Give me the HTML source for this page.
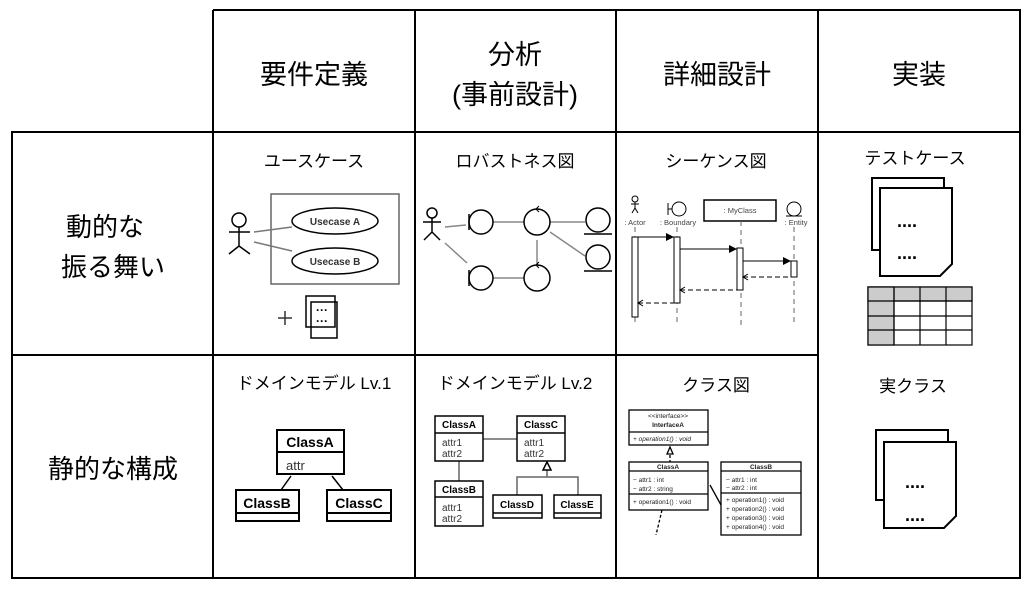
<!DOCTYPE html>
<html><head><meta charset="utf-8"><style>
body{margin:0;background:#fff}
text{font-family:"Liberation Sans","Noto Sans CJK JP",sans-serif}
</style></head><body>
<svg width="1027" height="588" viewBox="0 0 1027 588" xmlns="http://www.w3.org/2000/svg">
<g stroke="#000" stroke-width="2" fill="none">
<path d="M213 10H1020V578H12V132H1020M12 355H818M213 10V578M415 10V578M616 10V578M818 10V578M12 132V578"/>
</g>
<g font-size="27" text-anchor="middle">
<text x="314" y="84">要件定義</text>
<text x="515" y="64">分析</text>
<text x="515" y="104">(事前設計)</text>
<text x="717" y="84">詳細設計</text>
<text x="919" y="84">実装</text>
<text x="105" y="236" font-size="26">動的な</text>
<text x="113" y="276" font-size="26">振る舞い</text>
<text x="113" y="478" font-size="26">静的な構成</text>
</g>
<g font-size="17" text-anchor="middle">
<text x="314" y="167">ユースケース</text>
<text x="515" y="167">ロバストネス図</text>
<text x="716" y="167">シーケンス図</text>
<text x="915" y="164">テストケース</text>
<text x="314" y="389">ドメインモデル Lv.1</text>
<text x="515" y="389">ドメインモデル Lv.2</text>
<text x="716" y="391">クラス図</text>
<text x="913" y="392">実クラス</text>
</g>
<!-- usecase -->
<g stroke="#000" fill="none" stroke-width="1.5">
<rect x="271" y="194" width="128" height="90" stroke="#666"/>
<ellipse cx="335" cy="221" rx="43" ry="13"/>
<ellipse cx="335" cy="261" rx="43" ry="13"/>
<circle cx="239" cy="220" r="7"/>
<path d="M239 227V246M229 232H250M239 246L229 254M239 246L250 254"/>
<path d="M254 232L292 227M254 242L292 251" stroke="#777"/>
<path d="M285 311V325M278 318H292" stroke="#333"/>
<path d="M306 296H335V327H306Z M311 302H337V338H311Z" fill="#fff"/>
</g>
<g font-size="10" font-weight="bold" text-anchor="middle" fill="#333"><text x="335" y="225">Usecase A</text><text x="335" y="265">Usecase B</text></g>
<g font-size="12" font-weight="bold"><text x="316" y="314">···</text><text x="316" y="325">···</text></g>
<!-- robustness -->
<g stroke="#000" fill="none" stroke-width="1.5">
<circle cx="432" cy="213" r="5"/><path d="M432 218V232M423 222H441M432 232L424 240M432 232L440 240"/>
<path d="M445 227L466 225M445 243L467 263M493 222H524M550 222H585M550 232L585 256M537 240V265M493 278H524" stroke="#888"/>
<circle cx="481" cy="222" r="12"/><path d="M469 214V230"/>
<circle cx="481" cy="278" r="12"/><path d="M469 270V286"/>
<circle cx="537" cy="222" r="13"/><circle cx="537" cy="278" r="13"/>
<path d="M539 206L536 209L539 212M539 262L536 265L539 268" stroke-width="1"/>
<circle cx="598" cy="220" r="12"/><path d="M584 234H612"/>
<circle cx="598" cy="257" r="12"/><path d="M584 271H612"/>
</g>
<!-- sequence -->
<g stroke="#000" fill="none" stroke-width="1">
<circle cx="635" cy="199" r="3"/><path d="M635 202V208M631 204H639M635 208L632 213M635 208L638 213"/>
<circle cx="679" cy="209" r="7"/><path d="M668 203V215M668 209H672"/>
<rect x="704" y="200" width="72" height="21" stroke-width="1.5"/>
<circle cx="794" cy="209" r="7"/><path d="M786 216H802"/>
<path d="M635 227V325M677 227V325M741 221V325M794 227V325" stroke-dasharray="5 4" stroke="#666"/>
<rect x="632" y="237" width="6" height="80" fill="#fff"/>
<rect x="674" y="237" width="6" height="66" fill="#fff"/>
<rect x="737" y="248" width="6" height="42" fill="#fff"/>
<rect x="791" y="261" width="6" height="16" fill="#fff"/>
<path d="M638 237H674M680 249H737M743 261H791"/>
<path d="M743 277H791M680 290H737M638 303H674" stroke-dasharray="5 3"/>
<path d="M748 274L743 277L748 280M685 287L680 290L685 293M643 300L638 303L643 306"/>
</g>
<g fill="#000"><path d="M666 233L674 237L666 241Z M729 245L737 249L729 253Z M783 257L791 261L783 265Z"/></g>
<g font-size="7.5" fill="#444" text-anchor="middle"><text x="635" y="225">: Actor</text><text x="678" y="225">: Boundary</text><text x="740" y="213">: MyClass</text><text x="796" y="225">: Entity</text></g>
<!-- test cases -->
<g stroke="#000" stroke-width="2" fill="#fff">
<path d="M872 178H944V250H872Z"/><path d="M880 188H952V264L940 276H880Z"/>
<path d="M876 430H948V500H876Z"/><path d="M884 442H956V516L944 528H884Z"/>
</g>
<g font-size="18" font-weight="bold" fill="#000"><text x="897" y="227">....</text><text x="897" y="259">....</text><text x="905" y="488">....</text><text x="905" y="521">....</text></g>
<g stroke="#000" stroke-width="1.2">
<rect x="868" y="287" width="104" height="58" fill="#fff"/>
<rect x="868" y="287" width="104" height="14" fill="#ccc"/>
<rect x="868" y="287" width="26" height="58" fill="#ccc"/>
<path d="M868 301H972M868 316H972M868 330H972M894 287V345M920 287V345M946 287V345" fill="none"/>
</g>
<!-- Lv1 -->
<g stroke="#000" fill="#fff" stroke-width="2">
<path d="M291 476L281 490M332 476L343 490" stroke-width="1.5"/>
<rect x="277" y="430" width="67" height="44"/><path d="M277 452H344"/>
<rect x="236" y="490" width="63" height="31"/><path d="M236 513H299"/>
<rect x="327" y="490" width="64" height="31"/><path d="M327 513H391"/>
</g>
<g font-size="14" font-weight="bold" text-anchor="middle"><text x="310" y="447">ClassA</text><text x="267" y="508">ClassB</text><text x="359" y="508">ClassC</text></g>
<text x="286" y="470" font-size="13" fill="#333">attr</text>
<!-- Lv2 -->
<g stroke="#000" fill="#fff" stroke-width="1.5">
<path d="M483 439H517M459 461V481M547 470V477M517 495V477H578V495" fill="none" stroke="#666"/>
<path d="M547 462L543 470H551Z"/>
<rect x="435" y="416" width="48" height="45"/><path d="M435 433H483"/>
<rect x="517" y="416" width="48" height="45"/><path d="M517 433H565"/>
<rect x="435" y="481" width="48" height="45"/><path d="M435 497H483"/>
<rect x="493" y="495" width="49" height="23"/><path d="M493 513H542"/>
<rect x="554" y="495" width="47" height="23"/><path d="M554 513H601"/>
</g>
<g font-size="10" font-weight="bold" text-anchor="middle"><text x="459" y="428">ClassA</text><text x="541" y="428">ClassC</text><text x="459" y="493">ClassB</text><text x="517" y="508">ClassD</text><text x="577" y="508">ClassE</text></g>
<g font-size="10" fill="#333"><text x="442" y="446">attr1</text><text x="442" y="457">attr2</text><text x="524" y="446">attr1</text><text x="524" y="457">attr2</text><text x="442" y="511">attr1</text><text x="442" y="522">attr2</text></g>
<!-- class diagram -->
<g stroke="#000" fill="#fff" stroke-width="1.3">
<path d="M670 455V462M662 510L656 535" fill="none" stroke-dasharray="3 2"/>
<path d="M710 485L721 505" fill="none"/>
<path d="M670 447L667 454H673Z"/>
<rect x="629" y="410" width="79" height="35"/><path d="M629 432H708"/>
<rect x="629" y="462" width="79" height="48"/><path d="M629 471H708M629 494H708"/>
<rect x="721" y="462" width="80" height="73"/><path d="M721 471H801M721 493H801"/>
</g>
<g font-size="6.5" fill="#222">
<text x="668" y="418" text-anchor="middle">&lt;&lt;interface&gt;&gt;</text>
<text x="668" y="427" text-anchor="middle" font-weight="bold">InterfaceA</text>
<text x="633" y="441" font-style="italic">+ operation1() : void</text>
<text x="668" y="469" text-anchor="middle" font-weight="bold">ClassA</text>
<text x="633" y="482">− attr1 : int</text><text x="633" y="491">− attr2 : string</text>
<text x="633" y="504">+ operation1() : void</text>
<text x="761" y="469" text-anchor="middle" font-weight="bold">ClassB</text>
<text x="726" y="482">− attr1 : int</text><text x="726" y="490">− attr2 : int</text>
<text x="726" y="502">+ operation1() : void</text><text x="726" y="511">+ operation2() : void</text><text x="726" y="520">+ operation3() : void</text><text x="726" y="529">+ operation4() : void</text>
</g>
</svg>
</body></html>
